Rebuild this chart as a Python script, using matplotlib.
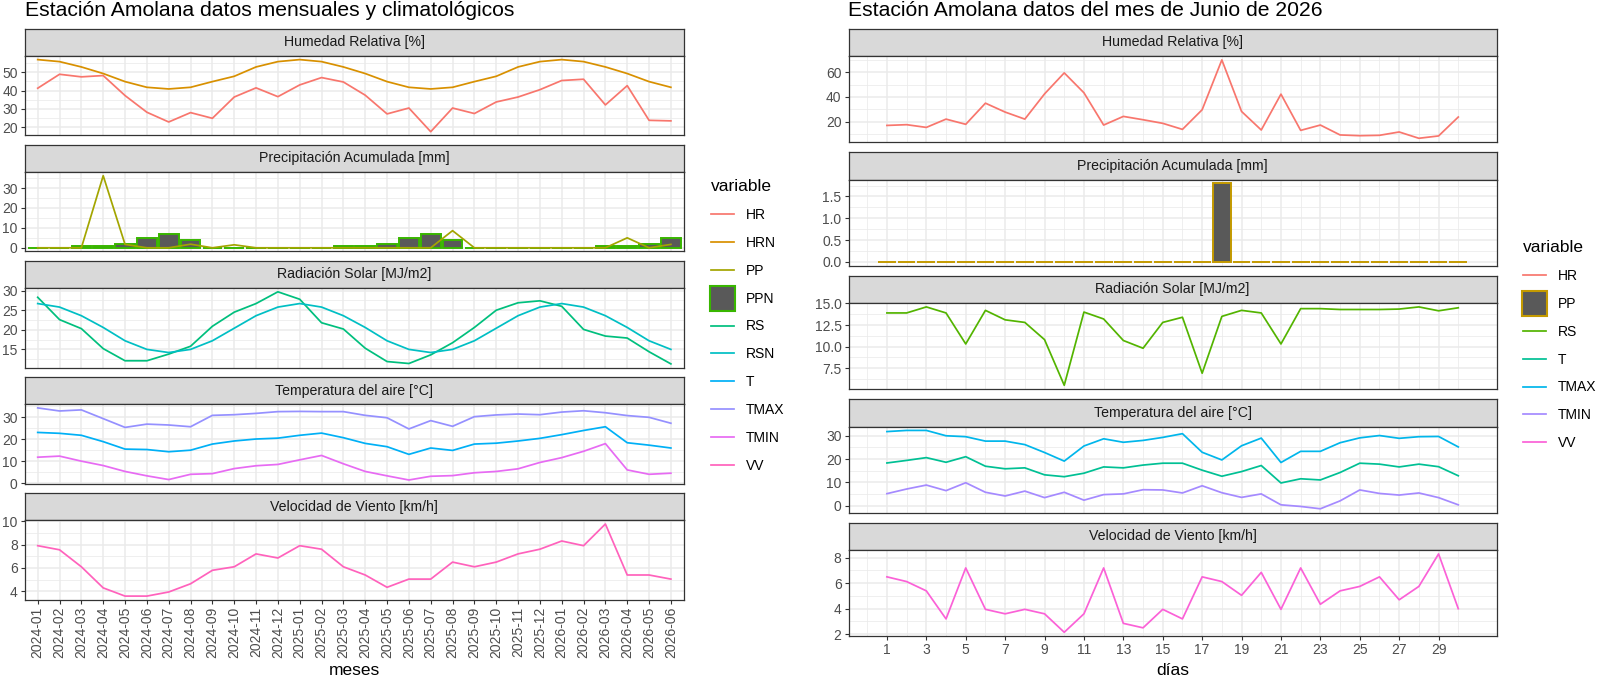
import numpy as np
import pandas as pd
import matplotlib
matplotlib.use("Agg")
import matplotlib.pyplot as plt
from matplotlib.lines import Line2D
from matplotlib.ticker import AutoMinorLocator, FixedLocator

plt.rcParams['font.family'] = ['Liberation Sans', 'DejaVu Sans']

W, H = 1600, 676

# ---------------- monthly data (left) ----------------
meses = list(pd.period_range("2024-01", periods=30, freq="M").strftime("%Y-%m"))

hr = [41.3, 48.9, 47.5, 48.2, 37.3, 28.2, 22.9, 28.0, 24.9, 36.5, 41.5, 36.7,
      43.1, 47.1, 44.7, 37.5, 27.3, 30.5, 17.6, 30.5, 27.5, 33.8, 36.5, 40.5,
      45.5, 46.2, 32.2, 42.7, 23.8, 23.5]
hrn = [56.9, 55.8, 52.9, 49.3, 44.9, 41.8, 40.9, 41.8, 44.9, 47.8, 52.9, 55.8,
       56.9, 55.8, 52.9, 49.3, 44.9, 41.8, 40.9, 41.8, 44.9, 47.8, 52.9, 55.8,
       56.9, 55.8, 52.9, 49.3, 44.9, 41.8]
pp = [0, 0, 0, 36.2, 1.7, 0, 0, 1.8, 0, 1.5, 0, 0,
      0, 0, 0, 0, 0, 0, 0, 8.6, 0, 0, 0, 0,
      0, 0, 0, 5.0, 0, 1.7]
ppn = [0, 0, 1, 1, 2, 5, 7, 4, 0, 0, 0, 0,
       0, 0, 1, 1, 2, 5, 7, 4, 0, 0, 0, 0,
       0, 0, 1, 1, 2, 5]
rs = [28.3, 22.6, 20.3, 15.2, 12.1, 12.1, 13.8, 15.8, 20.9, 24.5, 26.7, 29.7,
      27.8, 21.8, 20.2, 15.3, 11.9, 11.4, 13.6, 16.7, 20.6, 25.0, 26.9, 27.4,
      26.0, 20.1, 18.4, 17.9, 14.4, 11.3]
rsn = [26.7, 25.8, 23.6, 20.6, 17.2, 15.0, 14.2, 15.0, 17.2, 20.4, 23.6, 25.8,
       26.7, 25.8, 23.6, 20.6, 17.2, 15.0, 14.2, 15.0, 17.2, 20.4, 23.6, 25.8,
       26.7, 25.8, 23.6, 20.6, 17.2, 15.0]
t = [23.1, 22.7, 21.8, 18.9, 15.5, 15.3, 14.3, 15.0, 17.8, 19.2, 20.1, 20.5,
     21.8, 22.8, 20.7, 18.1, 16.6, 13.1, 16.0, 14.9, 17.8, 18.2, 19.2, 20.4,
     22.1, 24.0, 25.7, 18.4, 17.3, 16.0]
tmax = [34.3, 32.9, 33.4, 29.4, 25.4, 26.9, 26.5, 25.7, 30.9, 31.2, 31.8, 32.6,
        32.7, 32.6, 32.6, 30.9, 29.8, 24.7, 28.5, 25.9, 30.3, 31.1, 31.5, 31.2,
        32.4, 33.0, 32.1, 30.8, 30.0, 27.3]
tmin = [11.8, 12.3, 10.0, 8.0, 5.3, 3.3, 1.6, 4.0, 4.3, 6.6, 7.9, 8.5,
        10.6, 12.6, 8.8, 5.3, 3.3, 1.4, 3.1, 3.4, 4.7, 5.3, 6.5, 9.4,
        11.6, 14.5, 18.0, 6.0, 4.0, 4.5]
vv = [7.9, 7.55, 6.1, 4.3, 3.6, 3.6, 3.95, 4.65, 5.8, 6.1, 7.2, 6.85,
      7.9, 7.6, 6.1, 5.4, 4.35, 5.05, 5.05, 6.5, 6.1, 6.5, 7.2, 7.6,
      8.3, 7.9, 9.75, 5.4, 5.4, 5.05]

# ---------------- daily data (right) ----------------
dias = list(range(1, 31))
hr_d = [17.0, 17.6, 15.4, 22.1, 17.9, 35.0, 27.8, 22.1, 42.5, 59.5, 43.4, 17.3,
        24.3, 21.6, 18.7, 13.8, 29.7, 70.0, 28.3, 13.3, 42.3, 13.0, 17.3, 9.3,
        8.7, 9.0, 11.7, 6.6, 8.5, 23.8]
pp_d = [0, 0, 0, 0, 0, 0, 0, 0, 0, 0, 0, 0, 0, 0, 0, 0, 0, 1.8,
        0, 0, 0, 0, 0, 0, 0, 0, 0, 0, 0, 0]
rs_d = [13.9, 13.9, 14.6, 13.9, 10.3, 14.2, 13.1, 12.8, 10.8, 5.5, 14.0, 13.2,
        10.7, 9.8, 12.8, 13.4, 6.9, 13.5, 14.2, 13.9, 10.3, 14.4, 14.4, 14.3,
        14.3, 14.3, 14.35, 14.6, 14.15, 14.5]
t_d = [18.3, 19.4, 20.6, 18.6, 21.0, 16.9, 15.8, 16.2, 13.2, 12.4, 13.9, 16.6,
       16.2, 17.4, 18.2, 18.2, 15.2, 12.6, 14.6, 17.2, 9.7, 11.5, 11.0, 14.2,
       18.2, 17.8, 16.6, 17.8, 16.7, 12.8]
tmax_d = [31.8, 32.3, 32.3, 30.0, 29.6, 27.7, 27.7, 26.2, 22.8, 19.1, 25.6, 28.7,
          27.2, 28.0, 29.3, 30.9, 22.9, 19.6, 25.7, 29.0, 18.5, 23.3, 23.3, 27.0,
          29.1, 30.1, 28.9, 29.6, 29.7, 25.2]
tmin_d = [5.1, 7.1, 8.8, 6.4, 9.8, 5.7, 4.1, 6.2, 3.4, 5.7, 2.3, 4.7,
          5.0, 6.8, 6.7, 5.4, 8.5, 5.5, 3.5, 5.0, 0.3, -0.4, -1.4, 2.0,
          6.7, 5.2, 4.5, 5.4, 3.4, 0.3]
vv_d = [6.5, 6.13, 5.4, 3.2, 7.2, 3.95, 3.6, 3.95, 3.6, 2.15, 3.6, 7.2,
        2.85, 2.5, 3.95, 3.2, 6.5, 6.13, 5.05, 6.85, 3.95, 7.2, 4.35, 5.4,
        5.75, 6.5, 4.7, 5.75, 8.3, 4.0]

# ggplot hue palette
col_m = {'HR': '#F8766D', 'HRN': '#D89000', 'PP': '#A3A500', 'PPN': '#39B600',
         'RS': '#00BF7D', 'RSN': '#00BFC4', 'T': '#00B0F6', 'TMAX': '#9590FF',
         'TMIN': '#E76BF3', 'VV': '#FF62BC'}
col_d = {'HR': '#F8766D', 'PP': '#C49A00', 'RS': '#53B400', 'T': '#00C094',
         'TMAX': '#00B6EB', 'TMIN': '#A58AFF', 'VV': '#FB61D7'}

BAR_FILL = '#595959'
LW = 1.25


def box(l, t, r, b):
    return [l / W, 1 - b / H, (r - l) / W, (b - t) / H]


def expand(*series):
    v = np.concatenate([np.asarray(s, float) for s in series])
    lo, hi = np.nanmin(v), np.nanmax(v)
    d = (hi - lo) * 0.05
    return lo - d, hi + d


def add_facet(fig, l, r, top, strip_h, panel_h, title):
    sax = fig.add_axes(box(l, top, r, top + strip_h))
    sax.set_facecolor('#D9D9D9')
    sax.set_xticks([])
    sax.set_yticks([])
    for s in sax.spines.values():
        s.set_color('#333333')
        s.set_linewidth(0.9)
    sax.text(0.5, 0.5, title, ha='center', va='center', fontsize=10.2,
             color='#1A1A1A', transform=sax.transAxes)
    ax = fig.add_axes(box(l, top + strip_h, r, top + strip_h + panel_h))
    ax.set_facecolor('white')
    for s in ax.spines.values():
        s.set_color('#333333')
        s.set_linewidth(0.9)
    ax.set_axisbelow(True)
    ax.grid(which='major', color='#EBEBEB', linewidth=1.1)
    ax.grid(which='minor', color='#EBEBEB', linewidth=0.55)
    ax.tick_params(which='major', length=3, width=0.8, color='#333333',
                   labelcolor='#4D4D4D', labelsize=10, pad=2)
    ax.tick_params(which='minor', length=0)
    return ax


fig = plt.figure(figsize=(W / 100, H / 100), dpi=100)

# ---------------- left block ----------------
L_l, L_r = 24.6, 684
L_top, L_strip, L_panel, L_gap = 28.5, 27.5, 79.3, 9.3
x_m = np.arange(1, len(meses) + 1)

facets = ['Humedad Relativa [%]', 'Precipitación Acumulada [mm]',
          'Radiación Solar [MJ/m2]', 'Temperatura del aire [°C]',
          'Velocidad de Viento [km/h]']
left_yticks = [[20, 30, 40, 50], [0, 10, 20, 30], [15, 20, 25, 30],
               [0, 10, 20, 30], [4, 6, 8, 10]]
axL = []
for i, title in enumerate(facets):
    top = L_top + i * (L_strip + L_panel + L_gap)
    ax = add_facet(fig, L_l, L_r, top, L_strip, L_panel, title)
    ax.set_xlim(0.4, len(meses) + 0.6)
    ax.set_xticks(x_m)
    ax.set_yticks(left_yticks[i])
    ax.yaxis.set_minor_locator(AutoMinorLocator(2))
    if i < len(facets) - 1:
        ax.tick_params(axis='x', length=0, labelbottom=False)
    else:
        ax.set_xticklabels(meses, rotation=90)
    axL.append(ax)

axL[0].plot(x_m, hr, color=col_m['HR'], lw=LW)
axL[0].plot(x_m, hrn, color=col_m['HRN'], lw=LW)
axL[0].set_ylim(expand(hr, hrn))

axL[1].bar(x_m, ppn, width=0.9, color=BAR_FILL, edgecolor=col_m['PPN'], linewidth=1.4)
axL[1].plot(x_m, pp, color=col_m['PP'], lw=LW)
axL[1].set_ylim(expand(pp, ppn))

axL[2].plot(x_m, rs, color=col_m['RS'], lw=LW)
axL[2].plot(x_m, rsn, color=col_m['RSN'], lw=LW)
axL[2].set_ylim(expand(rs, rsn))

axL[3].plot(x_m, t, color=col_m['T'], lw=LW)
axL[3].plot(x_m, tmax, color=col_m['TMAX'], lw=LW)
axL[3].plot(x_m, tmin, color=col_m['TMIN'], lw=LW)
axL[3].set_ylim(expand(t, tmax, tmin))

axL[4].plot(x_m, vv, color=col_m['VV'], lw=LW)
axL[4].set_ylim(expand(vv))

# ---------------- right block ----------------
R_l, R_r = 848.5, 1496.7
R_top, R_strip, R_panel, R_gap = 28.7, 27.3, 86.2, 10.0
x_d = np.array(dias)

right_yticks = [[20, 40, 60], [0.0, 0.5, 1.0, 1.5], [7.5, 10.0, 12.5, 15.0],
                [0, 10, 20, 30], [2, 4, 6, 8]]
axR = []
for i, title in enumerate(facets):
    top = R_top + i * (R_strip + R_panel + R_gap)
    ax = add_facet(fig, R_l, R_r, top, R_strip, R_panel, title)
    ax.set_xlim(0.55 - 1.5, 30.45 + 1.5)
    ax.set_xticks(x_d[::2])
    ax.xaxis.set_minor_locator(FixedLocator(np.arange(0, 31, 2)))
    ax.set_yticks(right_yticks[i])
    ax.yaxis.set_minor_locator(AutoMinorLocator(2))
    if i < len(facets) - 1:
        ax.tick_params(axis='x', length=0, labelbottom=False)
    axR.append(ax)
axR[1].yaxis.set_major_formatter(plt.FormatStrFormatter('%.1f'))
axR[2].yaxis.set_major_formatter(plt.FormatStrFormatter('%.1f'))

axR[0].plot(x_d, hr_d, color=col_d['HR'], lw=LW)
axR[0].set_ylim(expand(hr_d))

axR[1].bar(x_d, pp_d, width=0.9, color=BAR_FILL, edgecolor=col_d['PP'], linewidth=1.4)
axR[1].set_ylim(expand(pp_d))

axR[2].plot(x_d, rs_d, color=col_d['RS'], lw=LW)
axR[2].set_ylim(expand(rs_d))

axR[3].plot(x_d, t_d, color=col_d['T'], lw=LW)
axR[3].plot(x_d, tmax_d, color=col_d['TMAX'], lw=LW)
axR[3].plot(x_d, tmin_d, color=col_d['TMIN'], lw=LW)
axR[3].set_ylim(expand(t_d, tmax_d, tmin_d))

axR[4].plot(x_d, vv_d, color=col_d['VV'], lw=LW)
axR[4].set_ylim(expand(vv_d))

# ---------------- titles & axis labels ----------------
fig.text(L_l / W, 1 - 16 / H, 'Estación Amolana datos mensuales y climatológicos',
         fontsize=15.2, va='baseline', ha='left')
fig.text(R_l / W, 1 - 16 / H, 'Estación Amolana datos del mes de Junio de 2026',
         fontsize=15.2, va='baseline', ha='left')
fig.text((L_l + L_r) / 2 / W, 1 - 675 / H, 'meses', fontsize=12.5, ha='center', va='baseline')
fig.text((R_l + R_r) / 2 / W, 1 - 675 / H, 'días', fontsize=12.5, ha='center', va='baseline')


# ---------------- legends ----------------
def make_handles(colors, bar_key, bar_edge):
    hs = []
    for k, c in colors.items():
        if k == bar_key:
            hs.append(Line2D([], [], marker='s', markersize=18, linestyle='none',
                             markerfacecolor=BAR_FILL, markeredgecolor=bar_edge,
                             markeredgewidth=1.5))
        else:
            hs.append(Line2D([], [], color=c, lw=LW))
    return hs


leg_kw = dict(loc='upper left', frameon=False, title='variable', fontsize=10,
              title_fontsize=12.5, handlelength=1.65, labelspacing=1.0,
              handletextpad=0.85, borderpad=0, borderaxespad=0, alignment='left')
fig.legend(make_handles(col_m, 'PPN', col_m['PPN']), list(col_m.keys()),
           bbox_to_anchor=(711 / W, 1 - 179 / H), **leg_kw)
fig.legend(make_handles(col_d, 'PP', col_d['PP']), list(col_d.keys()),
           bbox_to_anchor=(1523 / W, 1 - 240 / H), **leg_kw)

fig.savefig('out.png', dpi=100)
